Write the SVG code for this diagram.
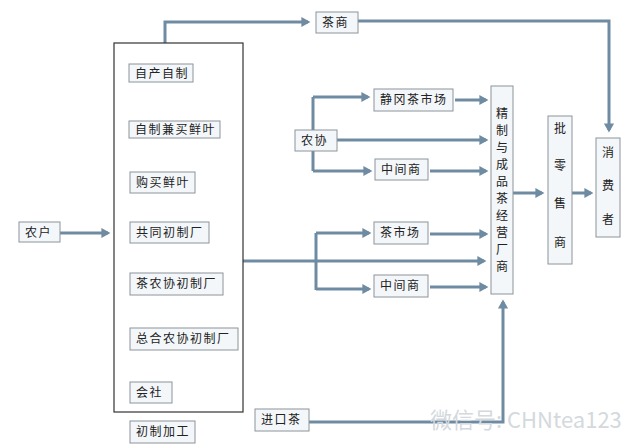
<svg xmlns="http://www.w3.org/2000/svg" width="637" height="448" viewBox="0 0 637 448">
<style>
.bx{fill:#f3f7fa;stroke:#8c949a;stroke-width:1}
.big{fill:#ffffff;stroke:#333;stroke-width:1.2}
.t{font-family:"Noto Sans CJK SC","Noto Sans CJK JP",sans-serif;font-size:12px;fill:#222;letter-spacing:1.5px}
.tv{font-family:"Noto Sans CJK SC","Noto Sans CJK JP",sans-serif;font-size:12px;fill:#222;text-anchor:middle}
.c{fill:none;stroke:#6e8ba2;stroke-width:3}
.a{fill:none;stroke:#6e8ba2;stroke-width:3;marker-end:url(#ah)}
.wm{font-family:"Noto Sans CJK SC","Noto Sans CJK JP",sans-serif;font-size:22px;fill:#d4d9dd}
</style>
<defs>
<marker id="ah" markerWidth="4" markerHeight="4" refX="2.2" refY="2" orient="auto" markerUnits="strokeWidth">
<path d="M0,0.3 L3,2 L0,3.7 z" fill="#6e8ba2"/>
</marker>
</defs>
<rect width="637" height="448" fill="#ffffff"/>
<g id="connectors">
<path class="a" d="M165,64 V22 H308"/>
<path class="a" d="M358,21 H609 V130"/>
<path class="a" d="M60,233 H108"/>
<path class="a" d="M337,140 H486"/>
<path class="c" d="M313,97 V171"/>
<path class="a" d="M313,97 H368"/>
<path class="a" d="M313,171 H370"/>
<path class="a" d="M455,100 H486"/>
<path class="a" d="M430,171 H486"/>
<path class="a" d="M243,261 H484"/>
<path class="c" d="M316,233 V290"/>
<path class="a" d="M316,233 H369"/>
<path class="a" d="M316,289 H369"/>
<path class="a" d="M430,234 H486"/>
<path class="a" d="M430,287 H486"/>
<path class="a" d="M309,422 H503 V302"/>
<path class="a" d="M513,193 H542"/>
<path class="a" d="M572,193 H591"/>
</g>
<g id="primary">
<rect class="big" x="114" y="43" width="129" height="369"/>
</g>
<g id="n1"><rect class="bx" x="129" y="64" width="64" height="18"/><text class="t" x="135" y="78">自产自制</text></g>
<g id="n2"><rect class="bx" x="129" y="121" width="91" height="17"/><text class="t" x="135" y="134">自制兼买鲜叶</text></g>
<g id="n3"><rect class="bx" x="130" y="172" width="65" height="21"/><text class="t" x="136" y="187">购买鲜叶</text></g>
<g id="n4"><rect class="bx" x="130" y="222" width="79" height="21"/><text class="t" x="136" y="237">共同初制厂</text></g>
<g id="n5"><rect class="bx" x="130" y="273" width="93" height="22"/><text class="t" x="136" y="288">茶农协初制厂</text></g>
<g id="n6"><rect class="bx" x="130" y="328" width="108" height="22"/><text class="t" x="136" y="343">总合农协初制厂</text></g>
<g id="n7"><rect class="bx" x="130" y="382" width="42" height="21"/><text class="t" x="136" y="397">会社</text></g>
<g id="n8"><rect class="bx" x="130" y="421" width="65" height="22"/><text class="t" x="136" y="436">初制加工</text></g>
<g id="nonghu"><rect class="bx" x="19" y="222" width="41" height="20"/><text class="t" x="25" y="237">农户</text></g>
<g id="chashang"><rect class="bx" x="316" y="12" width="42" height="21"/><text class="t" x="322" y="27">茶商</text></g>
<g id="nongxie"><rect class="bx" x="295" y="130" width="42" height="21"/><text class="t" x="301" y="145">农协</text></g>
<g id="jinggang"><rect class="bx" x="374" y="89" width="79" height="22"/><text class="t" x="380" y="104">静冈茶市场</text></g>
<g id="zhongjian1"><rect class="bx" x="375" y="159" width="53" height="21"/><text class="t" x="381" y="174">中间商</text></g>
<g id="chashichang"><rect class="bx" x="374" y="222" width="54" height="22"/><text class="t" x="380" y="237">茶市场</text></g>
<g id="zhongjian2"><rect class="bx" x="374" y="275" width="54" height="22"/><text class="t" x="380" y="290">中间商</text></g>
<g id="jinkou"><rect class="bx" x="255" y="409" width="54" height="22"/><text class="t" x="261" y="424">进口茶</text></g>
<g id="jingzhi"><rect class="bx" x="491" y="86" width="22" height="208"/>
<text class="tv" x="502" y="118">精</text><text class="tv" x="502" y="135">制</text><text class="tv" x="502" y="152">与</text><text class="tv" x="502" y="169">成</text><text class="tv" x="502" y="186">品</text><text class="tv" x="502" y="203">茶</text><text class="tv" x="502" y="220">经</text><text class="tv" x="502" y="237">营</text><text class="tv" x="502" y="254">厂</text><text class="tv" x="502" y="271">商</text></g>
<g id="pilingshou"><rect class="bx" x="548" y="116" width="24" height="148"/>
<text class="tv" x="560" y="133">批</text><text class="tv" x="560" y="170">零</text><text class="tv" x="560" y="208">售</text><text class="tv" x="560" y="247">商</text></g>
<g id="xiaofei"><rect class="bx" x="596" y="138" width="24" height="99"/>
<text class="tv" x="608" y="157">消</text><text class="tv" x="608" y="190">费</text><text class="tv" x="608" y="224">者</text></g>
<text class="wm" x="430" y="428">微信号: CHNtea123</text>
</svg>
